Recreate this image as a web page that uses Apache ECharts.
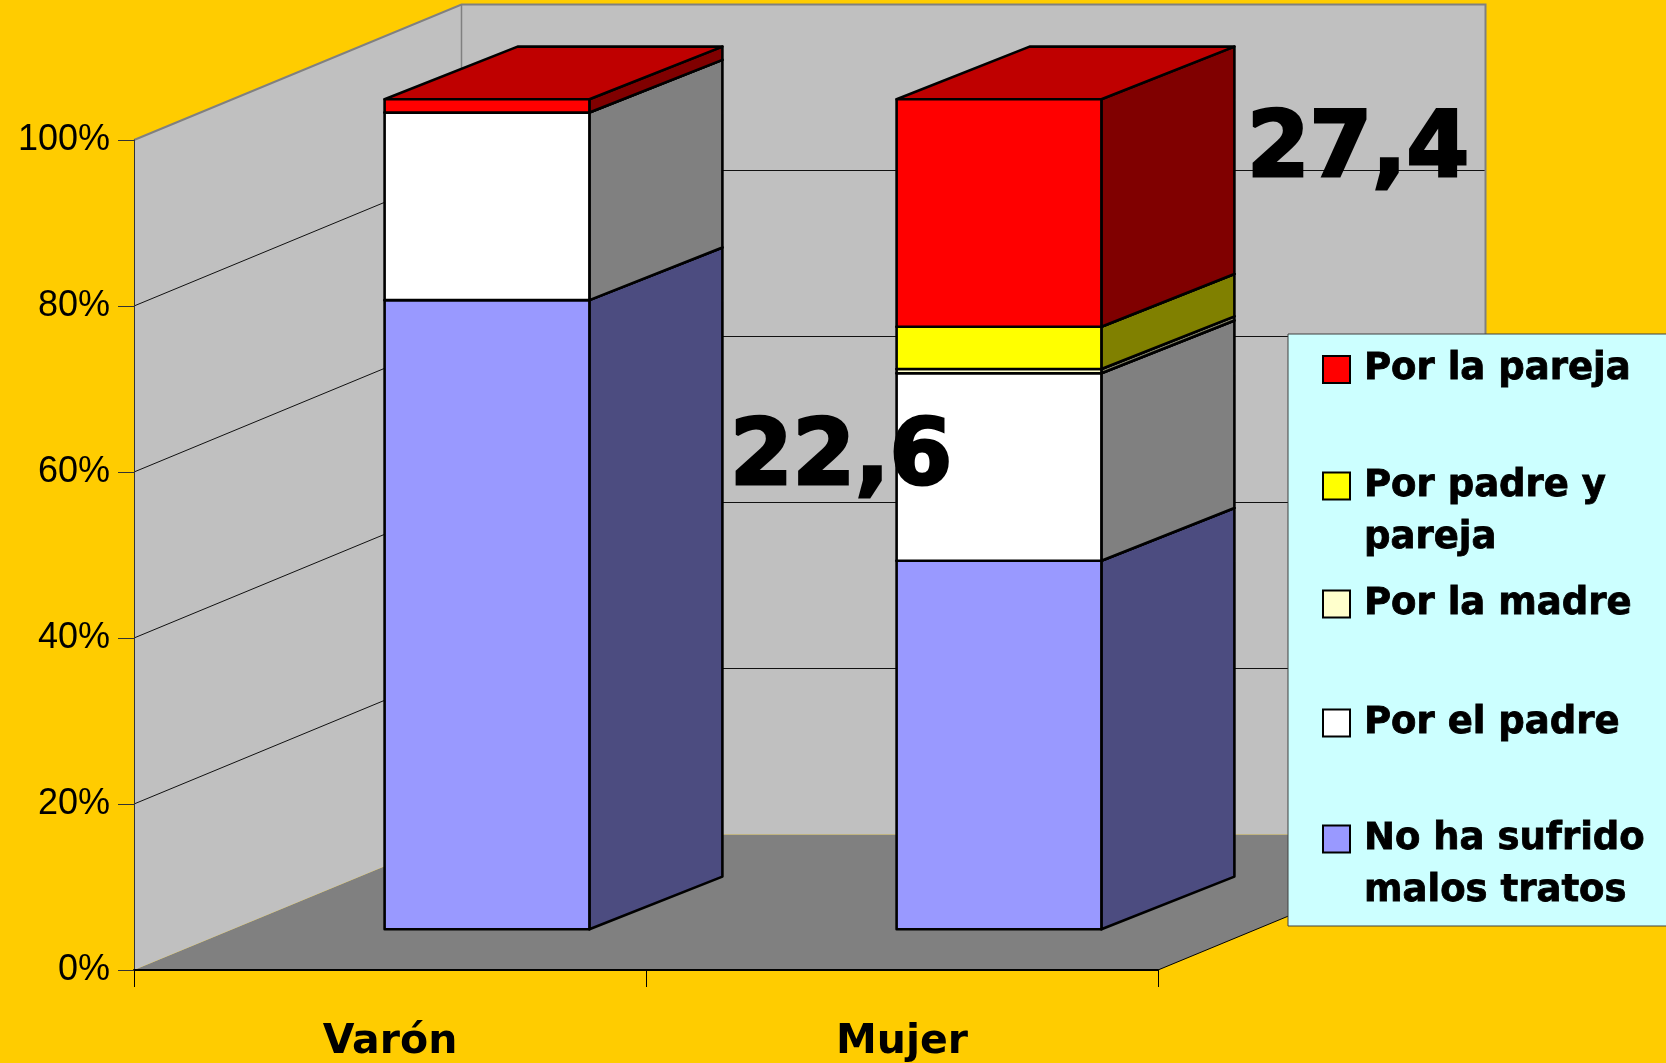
<!DOCTYPE html>
<html>
<head>
<meta charset="utf-8">
<title>Malos tratos por sexo</title>
<script src="https://cdn.jsdelivr.net/npm/echarts@6/dist/echarts.min.js"></script>
<style>
  html, body { margin: 0; padding: 0; background: #ffcc00; }
  #main { width: 1666px; height: 1063px; }
</style>
</head>
<body>
<div id="main"></div>
<script>
// datos (porcentajes)
const categories = ['Varón', 'Mujer'];
const seriesNames = ['No ha sufrido malos tratos', 'Por el padre', 'Por la madre', 'Por padre y pareja', 'Por la pareja'];
const noMaltrato = [75.8, 44.4];
const porPadre = [22.6, 22.6];
const porMadre = [0, 0.5];
const padreYPareja = [0, 5.1];
const porPareja = [1.6, 27.4];
const yTicks = [0, 20, 40, 60, 80, 100];
const callouts = ['22,6', '27,4'];

const values = [noMaltrato, porPadre, porMadre, padreYPareja, porPareja];

// colores: cara frontal, lateral, superior
const faces = [
  { front: '#9999ff', side: '#4c4c80', top: '#7373bf' },
  { front: '#ffffff', side: '#808080', top: '#bfbfbf' },
  { front: '#ffffcc', side: '#808066', top: '#bfbf99' },
  { front: '#ffff00', side: '#808000', top: '#bfbf00' },
  { front: '#ff0000', side: '#800000', top: '#bf0000' }
];

// perspectiva
const WALL_DX = 327.5, WALL_DY = -135.5;   // profundidad del suelo / paredes
const SHIFT_X = 97, SHIFT_Y = -40.7;       // la barra empieza algo hacia el fondo
const BAR_DX = 133, BAR_DY = -52.7;        // profundidad de la barra
const BAR_RATIO = 0.4;

const legendTop = [761, 697, 578, 408, 343.5];
const legendText = {
  'Por padre y pareja': '\nPor padre y\npareja',
  'No ha sufrido malos tratos': '\nNo ha sufrido\nmalos tratos'
};

function renderWalls(params, api) {
  const cs = params.coordSys;
  const L = cs.x, R = cs.x + cs.width, T = cs.y, B = cs.y + cs.height;
  const children = [];
  // suelo
  children.push({ type: 'polygon', shape: { points: [[L, B], [R, B], [R + WALL_DX, B + WALL_DY], [L + WALL_DX, B + WALL_DY]] },
    style: { fill: '#808080' } });
  // pared izquierda
  children.push({ type: 'polygon', shape: { points: [[L, T], [L + WALL_DX, T + WALL_DY], [L + WALL_DX, B + WALL_DY], [L, B]] },
    style: { fill: '#c0c0c0' } });
  // pared del fondo
  children.push({ type: 'rect', shape: { x: L + WALL_DX, y: T + WALL_DY, width: R - L, height: B - T },
    style: { fill: '#c0c0c0' } });
  // lineas de division
  yTicks.filter(v => v > 0 && v < 100).forEach(v => {
    const y = api.coord([0, v])[1];
    children.push({ type: 'polyline', shape: { points: [[L, y], [L + WALL_DX, y + WALL_DY], [R + WALL_DX, y + WALL_DY]] },
      style: { stroke: '#111', lineWidth: 1, fill: null } });
  });
  // bordes
  children.push({ type: 'polyline', shape: { points: [[L, T], [L + WALL_DX, T + WALL_DY], [R + WALL_DX, T + WALL_DY], [R + WALL_DX, B + WALL_DY]] },
    style: { stroke: '#808080', lineWidth: 2, fill: null } });
  children.push({ type: 'line', shape: { x1: L + WALL_DX, y1: T + WALL_DY, x2: L + WALL_DX, y2: B + WALL_DY },
    style: { stroke: '#808080', lineWidth: 1.5 } });
  children.push({ type: 'line', shape: { x1: R, y1: B, x2: R + WALL_DX, y2: B + WALL_DY },
    style: { stroke: '#000', lineWidth: 1 } });
  return { type: 'group', children: children };
}

function makeBarRender(c) {
  return function (params, api) {
    const base = api.value(1), top = api.value(2);
    if (top - base <= 0) return null;
    const p0 = api.coord([api.value(0), base]);
    const p1 = api.coord([api.value(0), top]);
    const w = api.size([1, 0])[0] * BAR_RATIO;
    const x0 = p0[0] - w / 2 + SHIFT_X, x1 = x0 + w;
    const yb = p0[1] + SHIFT_Y, yt = p1[1] + SHIFT_Y;
    const st = { stroke: '#000', lineWidth: 2.6, lineJoin: 'round' };
    return {
      type: 'group',
      children: [
        { type: 'polygon', shape: { points: [[x1, yt], [x1 + BAR_DX, yt + BAR_DY], [x1 + BAR_DX, yb + BAR_DY], [x1, yb]] },
          style: Object.assign({}, st, { fill: c.side }) },
        { type: 'polygon', shape: { points: [[x0, yt], [x0 + BAR_DX, yt + BAR_DY], [x1 + BAR_DX, yt + BAR_DY], [x1, yt]] },
          style: Object.assign({}, st, { fill: c.top }) },
        { type: 'rect', shape: { x: x0, y: yt, width: w, height: yb - yt },
          style: Object.assign({}, st, { fill: c.front }) }
      ]
    };
  };
}

// apilar
const bases = categories.map(() => 0);
const barSeries = seriesNames.map((name, i) => {
  const data = categories.map((cat, j) => {
    const item = [j, bases[j], bases[j] + values[i][j]];
    bases[j] += values[i][j];
    return item;
  });
  return {
    name: name,
    type: 'custom',
    z: 2,
    itemStyle: { color: faces[i].front },
    encode: { x: 0, y: [1, 2] },
    renderItem: makeBarRender(faces[i]),
    data: data
  };
});

const bigText = {
  fontFamily: 'DejaVu Sans', fontWeight: 'bold', fontSize: 90, fill: '#000',
  stroke: '#000', lineWidth: 3, align: 'center', verticalAlign: 'middle'
};

const chart = echarts.init(document.getElementById('main'));
chart.setOption({
  backgroundColor: '#ffcc00',
  animation: false,
  grid: { left: 134, right: 508, top: 140, bottom: 93, containLabel: false, outerBoundsMode: 'none' },
  xAxis: {
    type: 'category',
    data: categories,
    z: 3,
    axisLine: { show: true, lineStyle: { color: '#000', width: 2 } },
    axisTick: { show: true, length: 17, lineStyle: { color: '#000', width: 1 } },
    axisLabel: { color: '#000', fontFamily: 'DejaVu Sans', fontWeight: 'bold', fontSize: 41, margin: 52 },
    splitLine: { show: false }
  },
  yAxis: {
    type: 'value',
    min: 0,
    max: 100,
    interval: 20,
    z: 3,
    axisLine: { show: true, lineStyle: { color: '#333', width: 1 } },
    axisTick: { show: true, length: 16, lineStyle: { color: '#333', width: 1 } },
    axisLabel: { color: '#000', fontFamily: 'Liberation Sans', fontSize: 36, margin: 24, formatter: '{value}%' },
    splitLine: { show: false }
  },
  legend: seriesNames.map((name, i) => ({
    data: [name],
    left: 1322,
    top: legendTop[i],
    orient: 'vertical',
    padding: 0,
    selectedMode: false,
    icon: 'rect',
    itemWidth: 27,
    itemHeight: 27,
    itemStyle: { borderColor: '#000', borderWidth: 2 },
    textStyle: { color: '#000', fontFamily: 'DejaVu Sans', fontWeight: 'bold', fontSize: 37, lineHeight: 52,
      padding: [0, 0, 0, 9], textBorderColor: '#000', textBorderWidth: 0.8 },
    formatter: n => legendText[n] || n
  })),
  graphic: [
    { type: 'rect', z: 3, silent: true, shape: { x: 1288, y: 334, width: 400, height: 592 },
      style: { fill: '#ccffff', stroke: '#404040', lineWidth: 1 } },
    { type: 'text', z: 10, x: 841, y: 461, silent: true, style: Object.assign({ text: callouts[0] }, bigText) },
    { type: 'text', z: 10, x: 1358, y: 153, silent: true, style: Object.assign({ text: callouts[1] }, bigText) }
  ],
  series: [{
    type: 'custom',
    name: 'paredes',
    z: 1,
    silent: true,
    encode: { x: 0, y: 1 },
    renderItem: renderWalls,
    data: [[0, 0]]
  }].concat(barSeries)
});
</script>
</body>
</html>
